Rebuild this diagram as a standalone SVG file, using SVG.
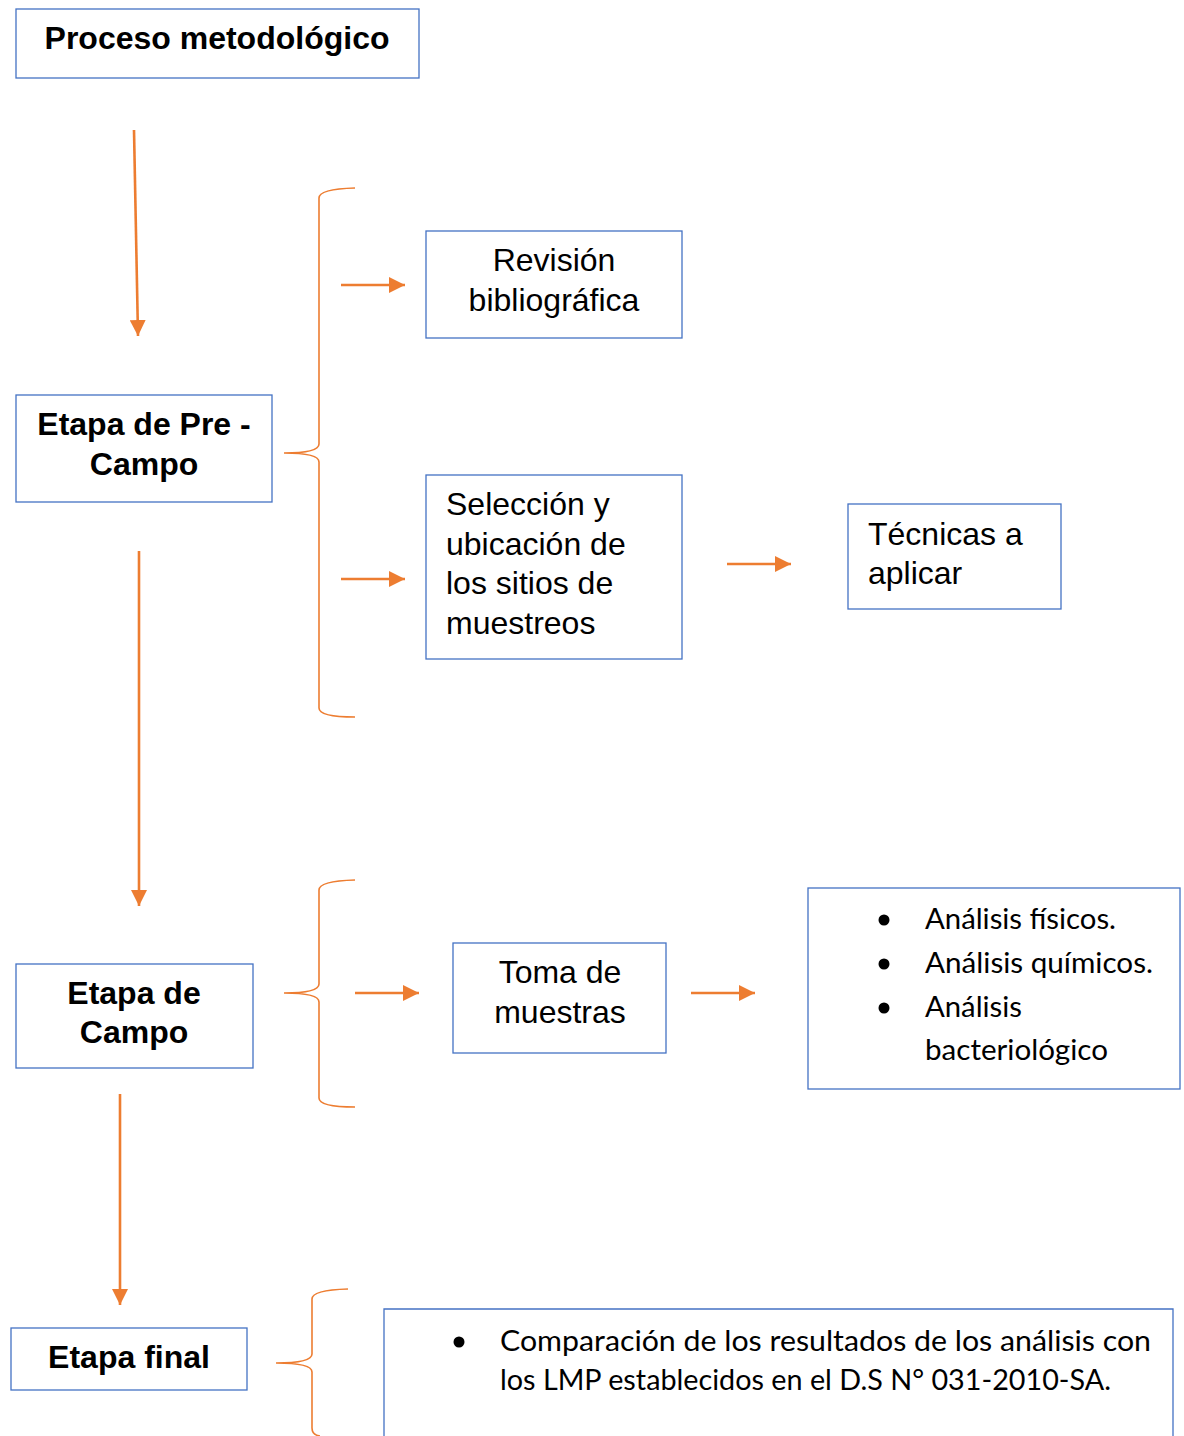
<svg xmlns="http://www.w3.org/2000/svg" width="1184" height="1436" viewBox="0 0 1184 1436">
<defs>
<marker id="ah" markerUnits="userSpaceOnUse" markerWidth="16" markerHeight="16" refX="16" refY="8" orient="auto">
<path d="M0,0 L16,8 L0,16 Z" fill="#ED7D31"/>
</marker>
<style>
.box{fill:#fff;stroke:#4472C4;stroke-width:1.3}
.arr{stroke:#ED7D31;stroke-width:2.6;fill:none;marker-end:url(#ah)}
.brace{stroke:#ED7D31;stroke-width:1.6;fill:none}
.b{font-family:"Liberation Sans",Arial,sans-serif;font-weight:bold;font-size:32px;fill:#000}
.r{font-family:"Liberation Sans",Arial,sans-serif;font-size:32px;fill:#000}
.c{font-family:Lato,"Open Sans",sans-serif;font-size:28px;fill:#000}
</style>
</defs>
<rect width="1184" height="1436" fill="#fff"/>

<g id="connectors">
<line class="arr" x1="134" y1="130" x2="138" y2="336"/>
<line class="arr" x1="139" y1="551" x2="139" y2="906"/>
<line class="arr" x1="120" y1="1094" x2="120" y2="1305"/>
<line class="arr" x1="341" y1="285" x2="405" y2="285"/>
<line class="arr" x1="341" y1="579" x2="405" y2="579"/>
<line class="arr" x1="727" y1="564" x2="791" y2="564"/>
<line class="arr" x1="355" y1="993" x2="419" y2="993"/>
<line class="arr" x1="691" y1="993" x2="755" y2="993"/>
<path class="brace" d="M355,188 Q319,189 319,198 L319,444 Q319,453 284,453 Q319,453 319,462 L319,708 Q319,717 355,717"/>
<path class="brace" d="M355,880 Q319,881 319,890 L319,984 Q319,993 284,993 Q319,993 319,1002 L319,1098 Q319,1107 355,1107"/>
<path class="brace" d="M348,1289 Q312,1290 312,1299 L312,1354 Q312,1363 276,1363 Q312,1363 312,1372 L312,1428 Q312,1435 320,1436"/>
</g>

<g id="n-proceso">
<rect class="box" x="16" y="9" width="403" height="69"/>
<text class="b" x="217" y="49" text-anchor="middle">Proceso metodológico</text>
</g>

<g id="n-precampo">
<rect class="box" x="16" y="395" width="256" height="107"/>
<text class="b" x="144" y="435" text-anchor="middle">Etapa de Pre -</text>
<text class="b" x="144" y="475" text-anchor="middle">Campo</text>
</g>

<g id="n-revision">
<rect class="box" x="426" y="231" width="256" height="107"/>
<text class="r" x="554" y="271" text-anchor="middle">Revisión</text>
<text class="r" x="554" y="311" text-anchor="middle">bibliográfica</text>
</g>

<g id="n-seleccion">
<rect class="box" x="426" y="475" width="256" height="184"/>
<text class="r" x="446" y="515">Selección y</text>
<text class="r" x="446" y="555">ubicación de</text>
<text class="r" x="446" y="594">los sitios de</text>
<text class="r" x="446" y="634">muestreos</text>
</g>

<g id="n-tecnicas">
<rect class="box" x="848" y="504" width="213" height="105"/>
<text class="r" x="868" y="545">Técnicas a</text>
<text class="r" x="868" y="584">aplicar</text>
</g>

<g id="n-campo">
<rect class="box" x="16" y="964" width="237" height="104"/>
<text class="b" x="134" y="1004" text-anchor="middle">Etapa de</text>
<text class="b" x="134" y="1043" text-anchor="middle">Campo</text>
</g>

<g id="n-toma">
<rect class="box" x="453" y="943" width="213" height="110"/>
<text class="r" x="560" y="983" text-anchor="middle">Toma de</text>
<text class="r" x="560" y="1023" text-anchor="middle">muestras</text>
</g>

<g id="n-analisis">
<rect class="box" x="808" y="888" width="372" height="201"/>
<circle cx="884" cy="920" r="5.5" fill="#000"/>
<circle cx="884" cy="964" r="5.5" fill="#000"/>
<circle cx="884" cy="1008" r="5.5" fill="#000"/>
<text class="c" x="925" y="929" textLength="191" lengthAdjust="spacingAndGlyphs">Análisis físicos.</text>
<text class="c" x="925" y="973" textLength="228" lengthAdjust="spacingAndGlyphs">Análisis químicos.</text>
<text class="c" x="925" y="1017" textLength="97" lengthAdjust="spacingAndGlyphs">Análisis</text>
<text class="c" x="925" y="1060" textLength="183" lengthAdjust="spacingAndGlyphs">bacteriológico</text>
</g>

<g id="n-final">
<rect class="box" x="11" y="1328" width="236" height="62"/>
<text class="b" x="129" y="1368" text-anchor="middle">Etapa final</text>
</g>

<g id="n-comparacion">
<path d="M384,1440 L384,1309 L1173,1309 L1173,1440" fill="#fff" stroke="#4472C4" stroke-width="1.3"/>
<circle cx="459" cy="1342" r="5.5" fill="#000"/>
<text class="c" x="500" y="1351" textLength="651" lengthAdjust="spacingAndGlyphs">Comparación de los resultados de los análisis con</text>
<text class="c" x="500" y="1390" textLength="611" lengthAdjust="spacingAndGlyphs">los LMP establecidos en el D.S N° 031-2010-SA.</text>
</g>
</svg>
